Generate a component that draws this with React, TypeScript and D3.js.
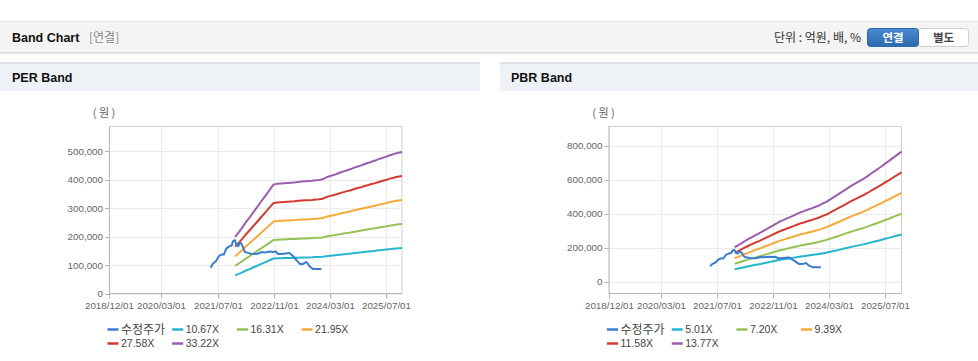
import React from 'react';
import * as d3 from 'd3';

// ---------- DATA ----------
const xTickLabels = ['2018/12/01', '2020/03/01', '2021/07/01', '2022/11/01', '2024/03/01', '2025/07/01'];
const xDomain = ['2018-12-01', '2025-11-20'];

const bandDates = [
  '2021-12-01',
  '2022-01-01', '2022-02-01', '2022-03-01', '2022-04-01', '2022-05-01', '2022-06-01',
  '2022-07-01', '2022-08-01', '2022-09-01', '2022-10-01', '2022-11-01', '2022-12-01',
  '2023-01-01', '2023-02-01', '2023-03-01', '2023-04-01', '2023-05-01', '2023-06-01',
  '2023-07-01', '2023-08-01', '2023-09-01', '2023-10-01', '2023-11-01', '2023-12-01',
  '2024-01-01', '2024-02-01', '2024-03-01', '2024-04-01', '2024-05-01', '2024-06-01',
  '2024-07-01', '2024-08-01', '2024-09-01', '2024-10-01', '2024-11-01', '2024-12-01',
  '2025-01-01', '2025-02-01', '2025-03-01', '2025-04-01', '2025-05-01', '2025-06-01',
  '2025-07-01', '2025-08-01', '2025-09-01', '2025-10-01', '2025-11-20',
];

// EPS (won per share) behind the PER band
const perEps = [
  5990,
  6470, 6980, 7500, 7980, 8490, 9000, 9510, 10020, 10540, 11050, 11560, 11620,
  11650, 11680, 11710, 11740, 11770, 11830, 11860, 11890, 11920, 11950, 12010, 12040,
  12100, 12310, 12430, 12550, 12670, 12820, 12940, 13070, 13190, 13340, 13460, 13580,
  13730, 13850, 13970, 14090, 14240, 14360, 14480, 14630, 14750, 14870, 14990,
];
const perMultiples = [10.67, 16.31, 21.95, 27.58, 33.22];

// BPS (won per share) behind the PBR band
const pbrBps = [
  14815,
  15614, 16558, 17429, 18301, 19099, 19971, 20697, 21569, 22440, 23239, 24110, 24909,
  25781, 26434, 27088, 27741, 28395, 29121, 29775, 30283, 30864, 31373, 31954, 32534,
  33333, 34059, 34931, 35875, 36819, 37763, 38707, 39724, 40741, 41612, 42484, 43355,
  44227, 45243, 46260, 47277, 48293, 49383, 50472, 51561, 52723, 53813, 55628,
];
const pbrMultiples = [5.01, 7.2, 9.39, 11.58, 13.77];

// adjusted share price (수정주가)
const priceDates = [
  '2021-05-02', '2021-05-20', '2021-06-20', '2021-07-12', '2021-08-03', '2021-08-25',
  '2021-09-15', '2021-10-10', '2021-11-01', '2021-11-12', '2021-11-28', '2021-12-12',
  '2021-12-28', '2022-01-10', '2022-01-25', '2022-02-10', '2022-02-25', '2022-03-22',
  '2022-04-20', '2022-05-18', '2022-06-15', '2022-07-15', '2022-08-15', '2022-09-28',
  '2022-10-25', '2022-11-20', '2022-12-10', '2023-01-10', '2023-02-15', '2023-03-18',
  '2023-04-18', '2023-05-15', '2023-06-15', '2023-07-15', '2023-08-13', '2023-09-10',
  '2023-10-10', '2023-12-21',
];
const priceValues = [
  91000, 104000, 115000, 131000, 137000, 137000,
  158000, 166000, 169000, 184000, 188000, 172000,
  166000, 178000, 176000, 160000, 146000, 143000,
  140000, 139000, 140000, 146000, 144000, 148000,
  146000, 148000, 139000, 139000, 141000, 143000,
  131000, 119000, 104000, 104000, 111000, 95000,
  86000, 86000,
];

const perYTicks = [0, 100000, 200000, 300000, 400000, 500000];
const pbrYTicks = [0, 200000, 400000, 600000, 800000];
const perYDomain = [0, 588000];
const pbrYDomain = [-68800, 913500];

const priceLabel = '수정주가';
const seriesColors = ['#3a7dcf', '#24b6cf', '#93c255', '#f6aa3a', '#d63a2f', '#9a5cb0'];

// ---------- COMPONENTS ----------
const parse = d3.timeParse('%Y-%m-%d');
const parseTick = d3.timeParse('%Y/%m/%d');
const fmt = d3.format(',');

type ChartProps = {
  left: number;
  base: number[];
  multiples: number[];
  yTicks: number[];
  yDomain: number[];
};

function BandPlot({ left, base, multiples, yTicks, yDomain }: ChartProps) {
  const x0 = left;
  const x1 = left + 293;
  const yTop = 126.5;
  const yBot = 293.5;
  const x = d3.scaleTime().domain(xDomain.map((d) => parse(d) as Date)).range([x0, x1]);
  const y = d3.scaleLinear().domain(yDomain).range([yBot, yTop]);
  const line = d3
    .line<[Date, number]>()
    .x((d) => x(d[0]))
    .y((d) => y(d[1]));

  const bandLines = multiples.map((m) =>
    line(bandDates.map((d, i) => [parse(d) as Date, base[i] * m]))
  );
  const priceLine = line(priceDates.map((d, i) => [parse(d) as Date, priceValues[i]]));

  const legendItems = [priceLabel, ...multiples.map((m) => `${m.toFixed(2)}X`)];
  const colW = 64.7;
  const legX = x0 - 1.5;

  return (
    <g>
      <text x={x0 - 5} y={117} fontSize={11} fill="#666" textAnchor="middle" fontFamily="'Noto Sans CJK KR', sans-serif">
        ( 원 )
      </text>
      {/* grid */}
      {yTicks.map((t) => (
        <line key={'gy' + t} x1={x0} x2={x1} y1={Math.round(y(t)) + 0.5} y2={Math.round(y(t)) + 0.5} stroke="#ebebeb" />
      ))}
      {xTickLabels.map((t) => {
        const xx = Math.round(x(parseTick(t) as Date)) + 0.5;
        return <line key={'gx' + t} x1={xx} x2={xx} y1={yTop} y2={yBot} stroke="#ebebeb" />;
      })}
      {/* frame */}
      <line x1={x0} x2={x1} y1={yTop} y2={yTop} stroke="#cfcfcf" />
      <line x1={x1} x2={x1} y1={yTop} y2={yBot} stroke="#cfcfcf" />
      <line x1={x0 + 0.5} x2={x0 + 0.5} y1={yTop} y2={yBot} stroke="#b5b5b5" />
      <line x1={x0} x2={x1} y1={yBot} y2={yBot} stroke="#b5b5b5" />
      {/* y ticks */}
      {yTicks.map((t) => (
        <g key={'yt' + t}>
          <line x1={x0 - 4} x2={x0} y1={Math.round(y(t)) + 0.5} y2={Math.round(y(t)) + 0.5} stroke="#b5b5b5" />
          <text x={x0 - 6} y={y(t)} dy="0.35em" fontSize={9.8} fill="#666" textAnchor="end" fontFamily="'Liberation Sans', Arial, sans-serif">
            {fmt(t)}
          </text>
        </g>
      ))}
      {/* x ticks */}
      {xTickLabels.map((t) => {
        const xx = Math.round(x(parseTick(t) as Date)) + 0.5;
        return (
          <g key={'xt' + t}>
            <line x1={xx} x2={xx} y1={yBot} y2={yBot + 5} stroke="#b5b5b5" />
            <text x={xx} y={306} dy="0.35em" fontSize={9.8} fill="#666" textAnchor="middle" fontFamily="'Liberation Sans', Arial, sans-serif">
              {t}
            </text>
          </g>
        );
      })}
      {/* series */}
      {bandLines.map((p, i) => (
        <path key={'b' + i} d={p || ''} fill="none" stroke={seriesColors[i + 1]} strokeWidth={2} strokeLinejoin="round" />
      ))}
      <path d={priceLine || ''} fill="none" stroke={seriesColors[0]} strokeWidth={2} strokeLinejoin="round" />
      {/* legend */}
      {legendItems.map((lab, i) => {
        const row = i < 4 ? 0 : 1;
        const col = i < 4 ? i : i - 4;
        const lx = legX + col * colW;
        const ly = row === 0 ? 329.5 : 343.5;
        return (
          <g key={'lg' + i}>
            <line x1={lx} x2={lx + 11} y1={ly} y2={ly} stroke={seriesColors[i]} strokeWidth={2.5} />
            <text
              x={lx + 13.5}
              y={ly}
              dy="0.36em"
              fontSize={i === 0 ? 12 : 10.5}
              fill="#444"
              fontFamily={i === 0 ? "'Noto Sans CJK KR', sans-serif" : "'Liberation Sans', Arial, sans-serif"}
            >
              {lab}
            </text>
          </g>
        );
      })}
    </g>
  );
}

export default function App() {
  return (
    <svg
      width={978}
      height={361}
      style={{ position: 'absolute', left: 0, top: 0, background: '#fff' }}
      fontFamily="'Liberation Sans', Arial, sans-serif"
    >
      <defs>
        <linearGradient id="shadow" x1="0" y1="0" x2="0" y2="1">
          <stop offset="0" stopColor="#c8c8c8" stopOpacity={0.9} />
          <stop offset="1" stopColor="#ffffff" stopOpacity={0} />
        </linearGradient>
        <linearGradient id="btn" x1="0" y1="0" x2="0" y2="1">
          <stop offset="0" stopColor="#4a8bd2" />
          <stop offset="1" stopColor="#2c69ae" />
        </linearGradient>
      </defs>
      {/* top header bar */}
      <rect x={0} y={21} width={978} height={31} fill="#f4f4f4" />
      <line x1={0} x2={978} y1={21.5} y2={21.5} stroke="#e2e2e2" />
      <rect x={0} y={52} width={978} height={4} fill="url(#shadow)" />
      <text x={12} y={38} dy="0.35em" fontSize={12.5} fontWeight="bold" fill="#111">
        Band Chart
      </text>
      <text x={89} y={38} dy="0.35em" fontSize={12} fill="#888" fontFamily="'Noto Sans CJK KR', sans-serif">
        [연결]
      </text>
      <text x={861} y={37.5} dy="0.35em" fontSize={12} fill="#333" textAnchor="end" fontFamily="'Noto Sans CJK KR', sans-serif">
        단위 : 억원, 배, %
      </text>
      <rect x={918} y={28.5} width={50.5} height={18} rx={3} fill="#fff" stroke="#cfcfcf" />
      <rect x={867.5} y={28.5} width={51} height={18} rx={3} fill="url(#btn)" stroke="#2c68ab" />
      <text x={893} y={37.5} dy="0.35em" fontSize={11.5} fontWeight="bold" fill="#fff" textAnchor="middle" fontFamily="'Noto Sans CJK KR', sans-serif">
        연결
      </text>
      <text x={943.5} y={37.5} dy="0.35em" fontSize={11.5} fontWeight="bold" fill="#444" textAnchor="middle" fontFamily="'Noto Sans CJK KR', sans-serif">
        별도
      </text>

      {/* panel headers */}
      <rect x={0} y={62} width={480} height={29} fill="#eef1f6" />
      <line x1={0} x2={480} y1={63} y2={63} stroke="#dde2ea" strokeWidth={2} />
      <text x={12} y={78} dy="0.35em" fontSize={12.5} fontWeight="bold" fill="#111">
        PER Band
      </text>
      <rect x={500} y={62} width={478} height={29} fill="#eef1f6" />
      <line x1={500} x2={978} y1={63} y2={63} stroke="#dde2ea" strokeWidth={2} />
      <text x={511} y={78} dy="0.35em" fontSize={12.5} fontWeight="bold" fill="#111">
        PBR Band
      </text>

      <BandPlot left={109} base={perEps} multiples={perMultiples} yTicks={perYTicks} yDomain={perYDomain} />
      <BandPlot left={608.5} base={pbrBps} multiples={pbrMultiples} yTicks={pbrYTicks} yDomain={pbrYDomain} />
    </svg>
  );
}
